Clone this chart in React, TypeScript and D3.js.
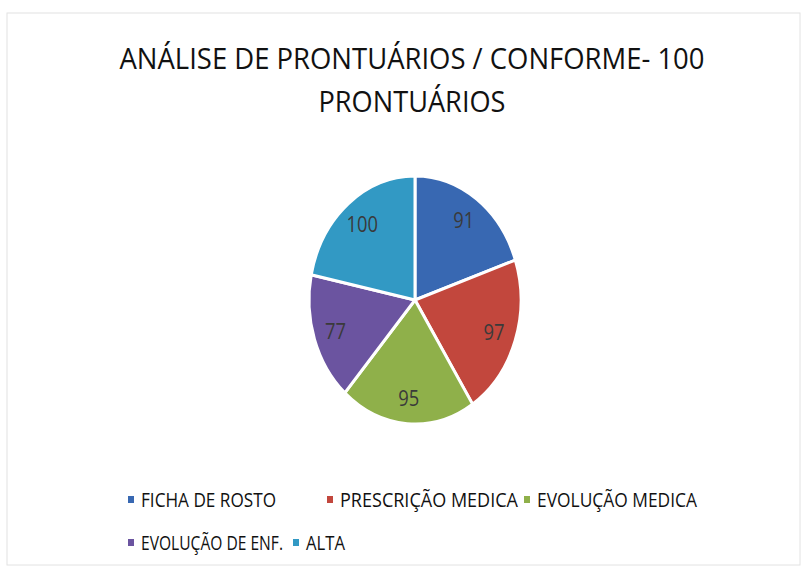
import React from "react";
import * as d3 from "d3";

const categories = ["FICHA DE ROSTO", "PRESCRIÇÃO MEDICA", "EVOLUÇÃO MEDICA", "EVOLUÇÃO DE ENF.", "ALTA"];
const values = [91, 97, 95, 77, 100];
const colors = ["#3868b2", "#c2473d", "#8fb04a", "#6b54a0", "#3299c4"];
const titleLines = ["ANÁLISE DE PRONTUÁRIOS / CONFORME- 100", "PRONTUÁRIOS"];

export default function App() {
  const W = 806, H = 569;
  const cx = 415, cy = 300, rx = 106, ry = 124;
  const sx = rx / ry;
  const pie = d3.pie<number>().sort(null).value((d) => d);
  const arcs = pie(values);
  const arc = d3.arc<d3.PieArcDatum<number>>().innerRadius(0).outerRadius(ry);
  const labelArc = d3.arc<d3.PieArcDatum<number>>().innerRadius(ry * 0.79).outerRadius(ry * 0.79);
  const font = "'Open Sans', 'Liberation Sans', sans-serif";

  const legendRows = [
    [{ i: 0, x: 131 }, { i: 1, x: 330 }, { i: 2, x: 527 }],
    [{ i: 3, x: 131 }, { i: 4, x: 296 }],
  ];
  const legendWidths = [135, 178, 160, 142, 39];
  const legendY = [507, 550];
  const vs = 1.18;

  return (
    <svg width={W} height={H} style={{ position: "absolute", left: 0, top: 0, background: "#fff" }}>
      <rect x={7} y={13} width={793} height={552} fill="#fff" stroke="#e2e2e2" strokeWidth={1} />
      <text x={412} y={69} textAnchor="middle" fontFamily={font} fontSize={30} fill="#111"
        textLength={585} lengthAdjust="spacingAndGlyphs">{titleLines[0]}</text>
      <text x={412} y={112} textAnchor="middle" fontFamily={font} fontSize={30} fill="#111"
        textLength={187} lengthAdjust="spacingAndGlyphs">{titleLines[1]}</text>
      <g transform={`translate(${cx},${cy}) scale(${sx},1)`}>
        {arcs.map((a, i) => (
          <path key={i} d={arc(a) || ""} fill={colors[i]} stroke="#fff" strokeWidth={3}
            vectorEffect="non-scaling-stroke" />
        ))}
      </g>
      {arcs.map((a, i) => {
        const [lx, ly] = labelArc.centroid(a);
        const s = String(values[i]);
        return (
          <text key={i} x={cx + lx * sx} y={cy + ly + 8} textAnchor="middle" fontFamily={font}
            fontSize={21} fill="#3a3a3a" textLength={s.length * 10.5}
            lengthAdjust="spacingAndGlyphs">{s}</text>
        );
      })}
      {legendRows.map((row, r) =>
        row.map(({ i, x }) => (
          <g key={i}>
            <rect x={x - 3} y={legendY[r] - 11} width={6} height={7} fill={colors[i]} />
            <g transform={`translate(${x + 10},${legendY[r]}) scale(1,${vs})`}>
              <text x={0} y={0} fontFamily={font} fontSize={17} fill="#111"
                textLength={legendWidths[i]} lengthAdjust="spacingAndGlyphs">{categories[i]}</text>
            </g>
          </g>
        ))
      )}
    </svg>
  );
}
